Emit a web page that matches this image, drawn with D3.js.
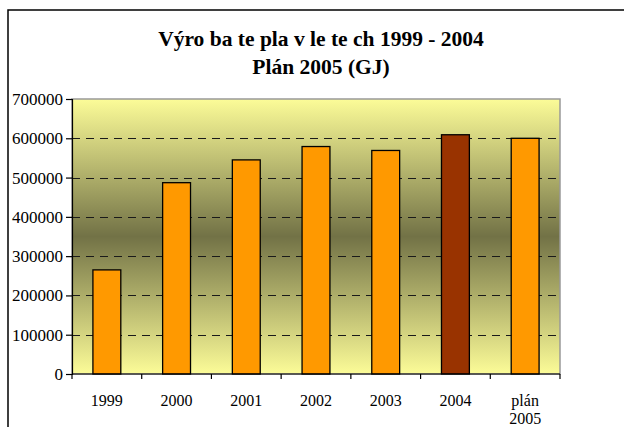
<!DOCTYPE html>
<html>
<head>
<meta charset="utf-8">
<script src="https://cdn.jsdelivr.net/npm/d3@7"></script>
<style>
  body { margin: 0; background: #fff; }
  svg { display: block; font-family: "Liberation Serif", "Times New Roman", serif; }
</style>
</head>
<body>
<script>
var years = ["1999", "2000", "2001", "2002", "2003", "2004", "plán 2005"];
var values = [265000, 487000, 545000, 579000, 569000, 609000, 600000];
var barColors = ["#FF9900", "#FF9900", "#FF9900", "#FF9900", "#FF9900", "#993300", "#FF9900"];
var yTicks = [0, 100000, 200000, 300000, 400000, 500000, 600000, 700000];
var titleLines = ["Výro ba te pla v le te ch 1999 - 2004", "Plán 2005 (GJ)"];

var width = 624, height = 427;
var plot = { left: 72, right: 560, top: 99, bottom: 374 };

var svg = d3.select("body").append("svg")
    .attr("width", width)
    .attr("height", height);

// outer chart frame (runs past the right and bottom edges)
svg.append("rect")
    .attr("x", 8).attr("y", 10)
    .attr("width", 640).attr("height", 440)
    .attr("fill", "#fff")
    .attr("stroke", "#000")
    .attr("stroke-width", 1.5);

var grad = svg.append("defs").append("linearGradient")
    .attr("id", "bg")
    .attr("x1", 0).attr("y1", 0).attr("x2", 0).attr("y2", 1);
grad.append("stop").attr("offset", "0%").attr("stop-color", "#fcfc98");
grad.append("stop").attr("offset", "50%").attr("stop-color", "#727246");
grad.append("stop").attr("offset", "100%").attr("stop-color", "#fcfc98");

var x = d3.scaleBand()
    .domain(years)
    .range([plot.left, plot.right])
    .paddingInner(0.6)
    .paddingOuter(0.3);

var xEdges = d3.scaleBand()
    .domain(years)
    .range([plot.left, plot.right]);

var y = d3.scaleLinear()
    .domain([0, 700000])
    .range([plot.bottom, plot.top]);

svg.append("rect")
    .attr("x", plot.left).attr("y", plot.top)
    .attr("width", plot.right - plot.left)
    .attr("height", plot.bottom - plot.top)
    .attr("fill", "url(#bg)")
    .attr("stroke", "#999")
    .attr("stroke-width", 1.5);

// dashed gridlines
svg.append("g")
    .selectAll("line")
    .data(yTicks.filter(d => d > 0 && d < 700000))
    .enter()
    .append("line")
      .attr("x1", plot.left).attr("x2", plot.right)
      .attr("y1", d => Math.round(y(d)) + 0.5)
      .attr("y2", d => Math.round(y(d)) + 0.5)
      .attr("stroke", "#1a1a1a")
      .attr("stroke-dasharray", "8,6");

svg.append("g")
    .selectAll("rect")
    .data(values)
    .enter()
    .append("rect")
      .attr("x", (d, i) => x(years[i]))
      .attr("y", d => y(d))
      .attr("width", x.bandwidth())
      .attr("height", d => y(0) - y(d))
      .attr("fill", (d, i) => barColors[i])
      .attr("stroke", "#000")
      .attr("stroke-width", 1.3);

// y axis
var yAxis = svg.append("g")
    .attr("transform", `translate(${plot.left},0)`)
    .call(d3.axisLeft(y).tickValues(yTicks).tickSize(6).tickPadding(3).tickFormat(d3.format("d")));
yAxis.attr("font-family", null).attr("font-size", null);
yAxis.selectAll("text")
    .style("font-size", "17px")
    .attr("fill", "#000");
yAxis.selectAll("line, path").attr("stroke", "#000").attr("stroke-width", 1.2);

// x axis: ticks on category boundaries
var xAxisG = svg.append("g")
    .attr("transform", `translate(0,${plot.bottom})`);
xAxisG.append("line")
    .attr("x1", plot.left).attr("x2", plot.right)
    .attr("stroke", "#000").attr("stroke-width", 1.2);
xAxisG.selectAll("line.tick")
    .data(years.map(d => xEdges(d)).concat([plot.right]))
    .enter()
    .append("line")
      .attr("class", "tick")
      .attr("x1", d => d).attr("x2", d => d)
      .attr("y1", 0).attr("y2", 5)
      .attr("stroke", "#000").attr("stroke-width", 1.2);

var xLabels = xAxisG.selectAll("text")
    .data(years)
    .enter()
    .append("text")
      .attr("x", d => xEdges(d) + xEdges.bandwidth() / 2)
      .attr("y", 32)
      .attr("text-anchor", "middle")
      .style("font-size", "16px")
      .attr("fill", "#000");
xLabels.each(function(d) {
  var parts = d.split(" ");
  var t = d3.select(this);
  parts.forEach((p, i) => {
    t.append("tspan")
      .attr("x", t.attr("x"))
      .attr("dy", i === 0 ? 0 : 18)
      .text(p);
  });
});

svg.append("g")
    .selectAll("text")
    .data(titleLines)
    .enter()
    .append("text")
      .attr("x", 321)
      .attr("y", (d, i) => 46 + i * 27.5)
      .attr("text-anchor", "middle")
      .style("font-size", "21.5px")
      .attr("font-weight", "bold")
      .attr("fill", "#000")
      .text(d => d);
</script>
</body>
</html>
